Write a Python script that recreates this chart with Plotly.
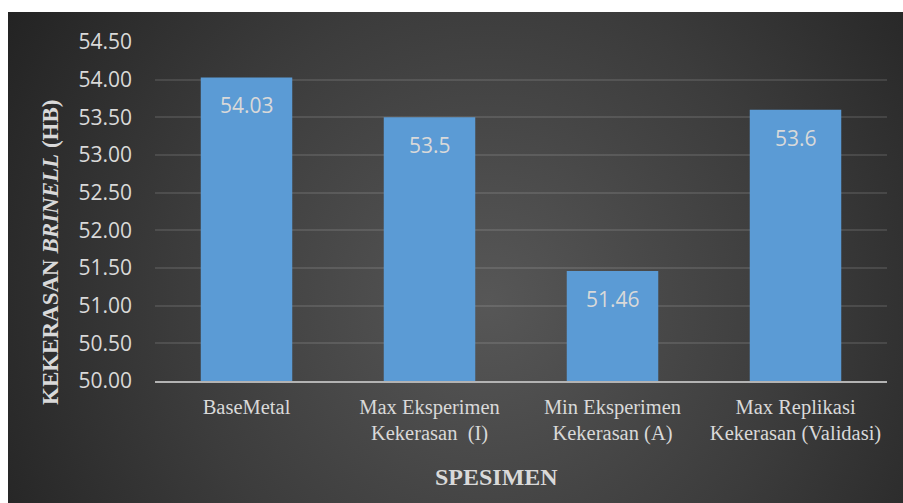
import base64
import plotly.graph_objects as go

categories = ["BaseMetal", "Max Eksperimen<br>Kekerasan  (I)", "Min Eksperimen<br>Kekerasan (A)", "Max Replikasi<br>Kekerasan (Validasi)"]
values = [54.03, 53.5, 51.46, 53.6]
value_labels = ["54.03", "53.5", "51.46", "53.6"]
y_ticks = [50.0, 50.5, 51.0, 51.5, 52.0, 52.5, 53.0, 53.5, 54.0, 54.5]

W, H = 903, 503
ml, mr, mt, mb = 155, 16, 42, 122
pw, ph = W - ml - mr, H - mt - mb

svg = (
    '<svg xmlns="http://www.w3.org/2000/svg" width="895" height="491" viewBox="0 0 895 491" preserveAspectRatio="none">'
    '<defs><radialGradient id="g" gradientUnits="userSpaceOnUse" cx="480" cy="290" r="560">'
    '<stop offset="0" stop-color="#575757"/><stop offset="0.55" stop-color="#3c3c3c"/><stop offset="1" stop-color="#232323"/>'
    '</radialGradient></defs><rect x="0" y="0" width="895" height="491" fill="url(#g)"/></svg>'
)
src = "data:image/svg+xml;base64," + base64.b64encode(svg.encode()).decode()

fig = go.Figure()
fig.add_trace(go.Bar(
    x=categories, y=values,
    marker=dict(color="#5b9bd5", line=dict(width=0)),
    width=0.5, hoverinfo="skip",
))

for i, (v, t) in enumerate(zip(values, value_labels)):
    fig.add_annotation(x=categories[i], y=v, text=t, showarrow=False, yanchor="top", yshift=-12,
                       font=dict(family="Open Sans", size=21, color="#d9d9d9"))

fig.add_annotation(xref="paper", yref="paper", x=(50 - ml) / pw, y=(H - mb - 253) / ph,
                   text="<b>KEKERASAN <i>BRINELL</i> (HB)</b>", textangle=-90, showarrow=False,
                   xanchor="center", yanchor="middle",
                   font=dict(family="Liberation Serif", size=23, color="#d9d9d9"))
fig.add_annotation(xref="paper", yref="paper", x=(496 - ml) / pw, y=(H - mb - 477) / ph,
                   text="<b>SPESIMEN</b>", showarrow=False, xanchor="center", yanchor="middle",
                   font=dict(family="Liberation Serif", size=24, color="#d9d9d9"))

fig.add_layout_image(dict(
    source=src, xref="paper", yref="paper",
    x=(8 - ml) / pw, y=1 + (mt - 12) / ph,
    sizex=(W - 8) / pw, sizey=(H - 12) / ph,
    xanchor="left", yanchor="top", sizing="stretch", layer="below",
))

fig.update_layout(
    width=W, height=H,
    margin=dict(l=ml, r=mr, t=mt, b=mb),
    paper_bgcolor="white", plot_bgcolor="rgba(0,0,0,0)",
    showlegend=False, bargap=0.5,
    xaxis=dict(
        type="category", showgrid=False, showline=True, linecolor="#b3b3b3", linewidth=2,
        ticks="", tickfont=dict(family="Liberation Serif", size=20.5, color="#d9d9d9"),
        ticklabelstandoff=6, fixedrange=True,
    ),
    yaxis=dict(
        range=[50, 54.5], tickvals=y_ticks, tickformat=".2f",
        showgrid=True, gridcolor="rgba(255,255,255,0.11)", gridwidth=1.5,
        zeroline=False, showline=False, ticks="",
        tickfont=dict(family="Open Sans", size=21, color="#d9d9d9"),
        ticklabelstandoff=22, fixedrange=True,
    ),
)

fig.write_html("out.html")
